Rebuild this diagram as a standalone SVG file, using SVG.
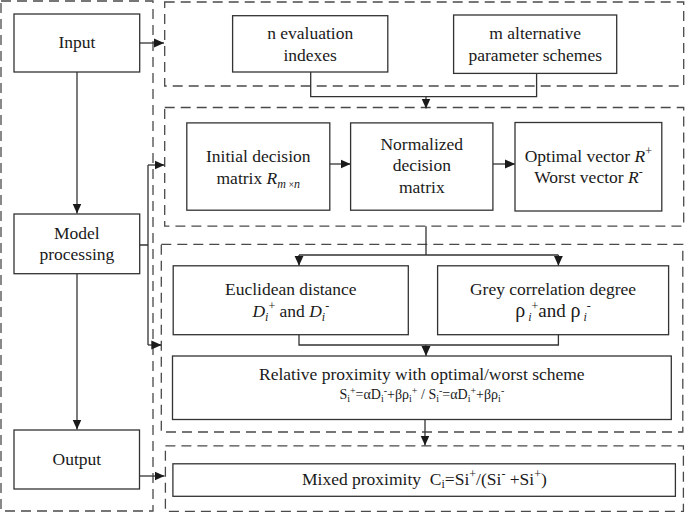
<svg xmlns="http://www.w3.org/2000/svg" width="685" height="514" viewBox="0 0 685 514">
<style>
.panel{fill:none;stroke:#4a4a4a;stroke-width:1.3;stroke-dasharray:10 6}
.box{fill:#fff;stroke:#333;stroke-width:1.3}
.ln{fill:none;stroke:#333;stroke-width:1.3}
.t{font-family:"Liberation Serif","Times New Roman",serif;font-size:17.5px;fill:#1a1a1a;text-anchor:middle}
.f{font-size:14px}
.it{font-style:italic}
</style>
<defs>
<marker id="ah" markerUnits="userSpaceOnUse" markerWidth="10" markerHeight="10" viewBox="0 0 10 10" refX="10" refY="5" orient="auto">
<path d="M0,0.5 L10,5 L0,9.5 z" fill="#1a1a1a"/>
</marker>
</defs>
<rect width="685" height="514" fill="#fff"/>
<g id="panels">
<rect class="panel" x="1" y="1" width="152" height="510"/>
<rect class="panel" x="164.7" y="2" width="519" height="84"/>
<rect class="panel" x="164.7" y="107.5" width="519" height="118.7"/>
<rect class="panel" x="161.3" y="244.3" width="521.5" height="187.7"/>
<rect class="panel" x="165.4" y="445.8" width="518" height="65.5"/>
</g>
<g id="connectors">
<path class="ln" d="M139.7,43 H164" marker-end="url(#ah)"/>
<path class="ln" d="M77,72 V213.5" marker-end="url(#ah)"/>
<path class="ln" d="M77,274 V429.5" marker-end="url(#ah)"/>
<path class="ln" d="M139.5,476 H164.5" marker-end="url(#ah)"/>
<path class="ln" d="M139.7,245 H148 M148,165 V345"/>
<path class="ln" d="M148,165 H164.5" marker-end="url(#ah)"/>
<path class="ln" d="M148,345 H161.3" marker-end="url(#ah)"/>
<path class="ln" d="M310.7,72 V96.6 H536.6 V73.4"/>
<path class="ln" d="M426,96.6 V108.5" marker-end="url(#ah)"/>
<path class="ln" d="M329.8,164 H350.6" marker-end="url(#ah)"/>
<path class="ln" d="M492.9,164 H515" marker-end="url(#ah)"/>
<path class="ln" d="M426,226.2 V255 M299,255 H558.4"/>
<path class="ln" d="M299,255 V265.8" marker-end="url(#ah)"/>
<path class="ln" d="M558.4,255 V265.8" marker-end="url(#ah)"/>
<path class="ln" d="M299,334.7 V345 H558.4 V334.7"/>
<path class="ln" d="M426,345 V356" marker-end="url(#ah)"/>
<path class="ln" d="M425,419.5 V445.5" marker-end="url(#ah)"/>
</g>
<g id="input">
<rect class="box" x="14" y="14" width="125.7" height="58"/>
<text class="t" x="76.9" y="48">Input</text>
</g>
<g id="model">
<rect class="box" x="14" y="214" width="125.7" height="59.7"/>
<text class="t" x="76.9" y="239">Model</text>
<text class="t" x="76.9" y="260">processing</text>
</g>
<g id="output">
<rect class="box" x="14" y="430" width="125.5" height="59"/>
<text class="t" x="76.9" y="465">Output</text>
</g>
<g id="n-indexes">
<rect class="box" x="232.6" y="15.7" width="155.2" height="56.3"/>
<text class="t" x="310.2" y="39">n evaluation</text>
<text class="t" x="310.2" y="61">indexes</text>
</g>
<g id="m-schemes">
<rect class="box" x="453.6" y="15" width="163.1" height="58.4"/>
<text class="t" x="535.2" y="39">m alternative</text>
<text class="t" x="535.2" y="61">parameter schemes</text>
</g>
<g id="initial">
<rect class="box" x="186.8" y="122.9" width="143" height="87.3"/>
<text class="t" x="258.3" y="161.5">Initial decision</text>
<text class="t" x="258.3" y="183.5">matrix <tspan class="it">R</tspan><tspan class="it" font-size="12" dy="4">m</tspan><tspan font-size="10"> ×</tspan><tspan class="it" font-size="12">n</tspan></text>
</g>
<g id="normalized">
<rect class="box" x="350.6" y="122.9" width="142.3" height="87.3"/>
<text class="t" x="421.8" y="149.5">Normalized</text>
<text class="t" x="421.8" y="171">decision</text>
<text class="t" x="421.8" y="192.8">matrix</text>
</g>
<g id="optimal">
<rect class="box" x="515" y="122.5" width="146.8" height="88.5"/>
<text class="t" x="588.4" y="161.5">Optimal vector <tspan class="it">R</tspan><tspan font-size="12" dy="-7">+</tspan></text>
<text class="t" x="588.4" y="183">Worst vector <tspan class="it">R</tspan><tspan font-size="12" dy="-7">-</tspan></text>
</g>
<g id="euclidean">
<rect class="box" x="173.2" y="265.8" width="235.1" height="68.9"/>
<text class="t" x="290.8" y="295">Euclidean distance</text>
<text class="t" x="290.8" y="317"><tspan class="it">D</tspan><tspan class="it" font-size="12" dy="4">i</tspan><tspan font-size="12" dy="-11">+</tspan><tspan dy="7"> and </tspan><tspan class="it">D</tspan><tspan class="it" font-size="12" dy="4">i</tspan><tspan font-size="12" dy="-11">-</tspan></text>
</g>
<g id="grey">
<rect class="box" x="437.6" y="265.8" width="231" height="68.9"/>
<text class="t" x="553" y="295">Grey correlation degree</text>
<text class="t" x="553" y="317"><tspan font-size="20">ρ</tspan><tspan class="it" font-size="12" dy="4"> i</tspan><tspan font-size="12" dy="-11">+</tspan><tspan dy="7" font-size="19">and </tspan><tspan font-size="20">ρ</tspan><tspan class="it" font-size="12" dy="4"> i</tspan><tspan font-size="12" dy="-11">-</tspan></text>
</g>
<g id="relative">
<rect class="box" x="172.5" y="356" width="498.8" height="63.5"/>
<text class="t" x="421.8" y="380">Relative proximity with optimal/worst scheme</text>
<text class="t f" x="421.8" y="399">S<tspan font-size="10" dy="3">i</tspan><tspan font-size="10" dy="-8">+</tspan><tspan dy="5">=αD</tspan><tspan font-size="10" dy="3">i</tspan><tspan font-size="10" dy="-8">-</tspan><tspan dy="5">+βρ</tspan><tspan font-size="10" dy="3">i</tspan><tspan font-size="10" dy="-8">+</tspan><tspan dy="5"> / S</tspan><tspan font-size="10" dy="3">i</tspan><tspan font-size="10" dy="-8">-</tspan><tspan dy="5">=αD</tspan><tspan font-size="10" dy="3">i</tspan><tspan font-size="10" dy="-8">+</tspan><tspan dy="5">+βρ</tspan><tspan font-size="10" dy="3">i</tspan><tspan font-size="10" dy="-8">-</tspan></text>
</g>
<g id="mixed">
<rect class="box" x="172.9" y="463.8" width="502.5" height="32.5"/>
<text class="t" x="424.4" y="485" xml:space="preserve">Mixed proximity  C<tspan font-size="12" dy="3">i</tspan><tspan dy="-3">=Si</tspan><tspan font-size="12" dy="-7">+</tspan><tspan dy="7">/(Si</tspan><tspan font-size="12" dy="-7">-</tspan><tspan dy="7"> +Si</tspan><tspan font-size="12" dy="-7">+</tspan><tspan dy="7">)</tspan></text>
</g>
</svg>
